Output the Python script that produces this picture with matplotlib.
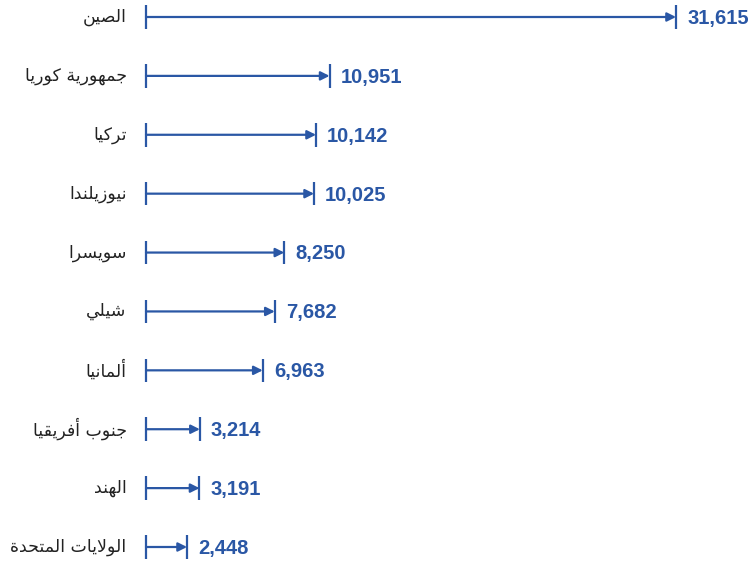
import matplotlib
matplotlib.use('Agg')
import matplotlib.pyplot as plt

countries = ['الصين', 'جمهورية كوريا', 'تركيا', 'نيوزيلندا', 'سويسرا',
             'شيلي', 'ألمانيا', 'جنوب أفريقيا', 'الهند', 'الولايات المتحدة']
values = [31615, 10951, 10142, 10025, 8250, 7682, 6963, 3214, 3191, 2448]

blue = '#2a57a5'

# arabic shaping by hand (matplotlib has no text shaping)
# char: (isolated, final, initial, medial)
forms = {
    'ا': (0xFE8D, 0xFE8E, None, None),
    'أ': (0xFE83, 0xFE84, None, None),
    'ب': (0xFE8F, 0xFE90, 0xFE91, 0xFE92),
    'ة': (0xFE93, 0xFE94, None, None),
    'ت': (0xFE95, 0xFE96, 0xFE97, 0xFE98),
    'ج': (0xFE9D, 0xFE9E, 0xFE9F, 0xFEA0),
    'ح': (0xFEA1, 0xFEA2, 0xFEA3, 0xFEA4),
    'د': (0xFEA9, 0xFEAA, None, None),
    'ر': (0xFEAD, 0xFEAE, None, None),
    'ز': (0xFEAF, 0xFEB0, None, None),
    'س': (0xFEB1, 0xFEB2, 0xFEB3, 0xFEB4),
    'ش': (0xFEB5, 0xFEB6, 0xFEB7, 0xFEB8),
    'ص': (0xFEB9, 0xFEBA, 0xFEBB, 0xFEBC),
    'ف': (0xFED1, 0xFED2, 0xFED3, 0xFED4),
    'ق': (0xFED5, 0xFED6, 0xFED7, 0xFED8),
    'ك': (0xFED9, 0xFEDA, 0xFEDB, 0xFEDC),
    'ل': (0xFEDD, 0xFEDE, 0xFEDF, 0xFEE0),
    'م': (0xFEE1, 0xFEE2, 0xFEE3, 0xFEE4),
    'ن': (0xFEE5, 0xFEE6, 0xFEE7, 0xFEE8),
    'ه': (0xFEE9, 0xFEEA, 0xFEEB, 0xFEEC),
    'و': (0xFEED, 0xFEEE, None, None),
    'ي': (0xFEF1, 0xFEF2, 0xFEF3, 0xFEF4),
    'لا': (0xFEFB, 0xFEFC, None, None),
    'لأ': (0xFEF7, 0xFEF8, None, None),
}

def shape(word):
    toks = []
    i = 0
    while i < len(word):
        if word[i] == 'ل' and i + 1 < len(word) and word[i+1] in 'اأ':
            toks.append(word[i:i+2])
            i += 2
        else:
            toks.append(word[i])
            i += 1
    out = []
    for k, t in enumerate(toks):
        if t not in forms:
            out.append(t)
            continue
        f = forms[t]
        prev = toks[k-1] if k > 0 else None
        nxt = toks[k+1] if k + 1 < len(toks) else None
        jp = prev in forms and forms[prev][2] is not None
        jn = nxt in forms and f[2] is not None
        if jp and jn:
            c = f[3]
        elif jp:
            c = f[1]
        elif jn:
            c = f[2]
        else:
            c = f[0]
        out.append(chr(c))
    return ''.join(out)[::-1]

fig = plt.figure(figsize=(7.55, 5.62), dpi=100)
ax = fig.add_axes([146/755, 15/562, 530/755, 530/562])
ax.set_xlim(0, values[0])
ax.set_ylim(len(values) - 1, 0)
ax.axis('off')

for i, (name, v) in enumerate(zip(countries, values)):
    ax.annotate('', xy=(v, i), xytext=(0, i),
                arrowprops=dict(arrowstyle='-|>', color=blue, lw=1.6,
                                mutation_scale=13, shrinkA=0, shrinkB=0),
                annotation_clip=False)
    ax.plot([0, 0], [i - 0.2, i + 0.2], color=blue, lw=1.6, clip_on=False,
            solid_capstyle='butt')
    ax.plot([v, v], [i - 0.2, i + 0.2], color=blue, lw=1.6, clip_on=False,
            solid_capstyle='butt')
    ax.annotate(f'{v:,}', xy=(v, i), xytext=(8, -1), textcoords='offset points',
                ha='left', va='center', color=blue, fontsize=14.5,
                fontweight='bold', family='Liberation Sans')
    ax.annotate(shape(name), xy=(0, i), xytext=(-14, 0), textcoords='offset points',
                ha='right', va='center', color='#222222', fontsize=12.5,
                family='DejaVu Sans')

fig.savefig('out.png', dpi=100)
